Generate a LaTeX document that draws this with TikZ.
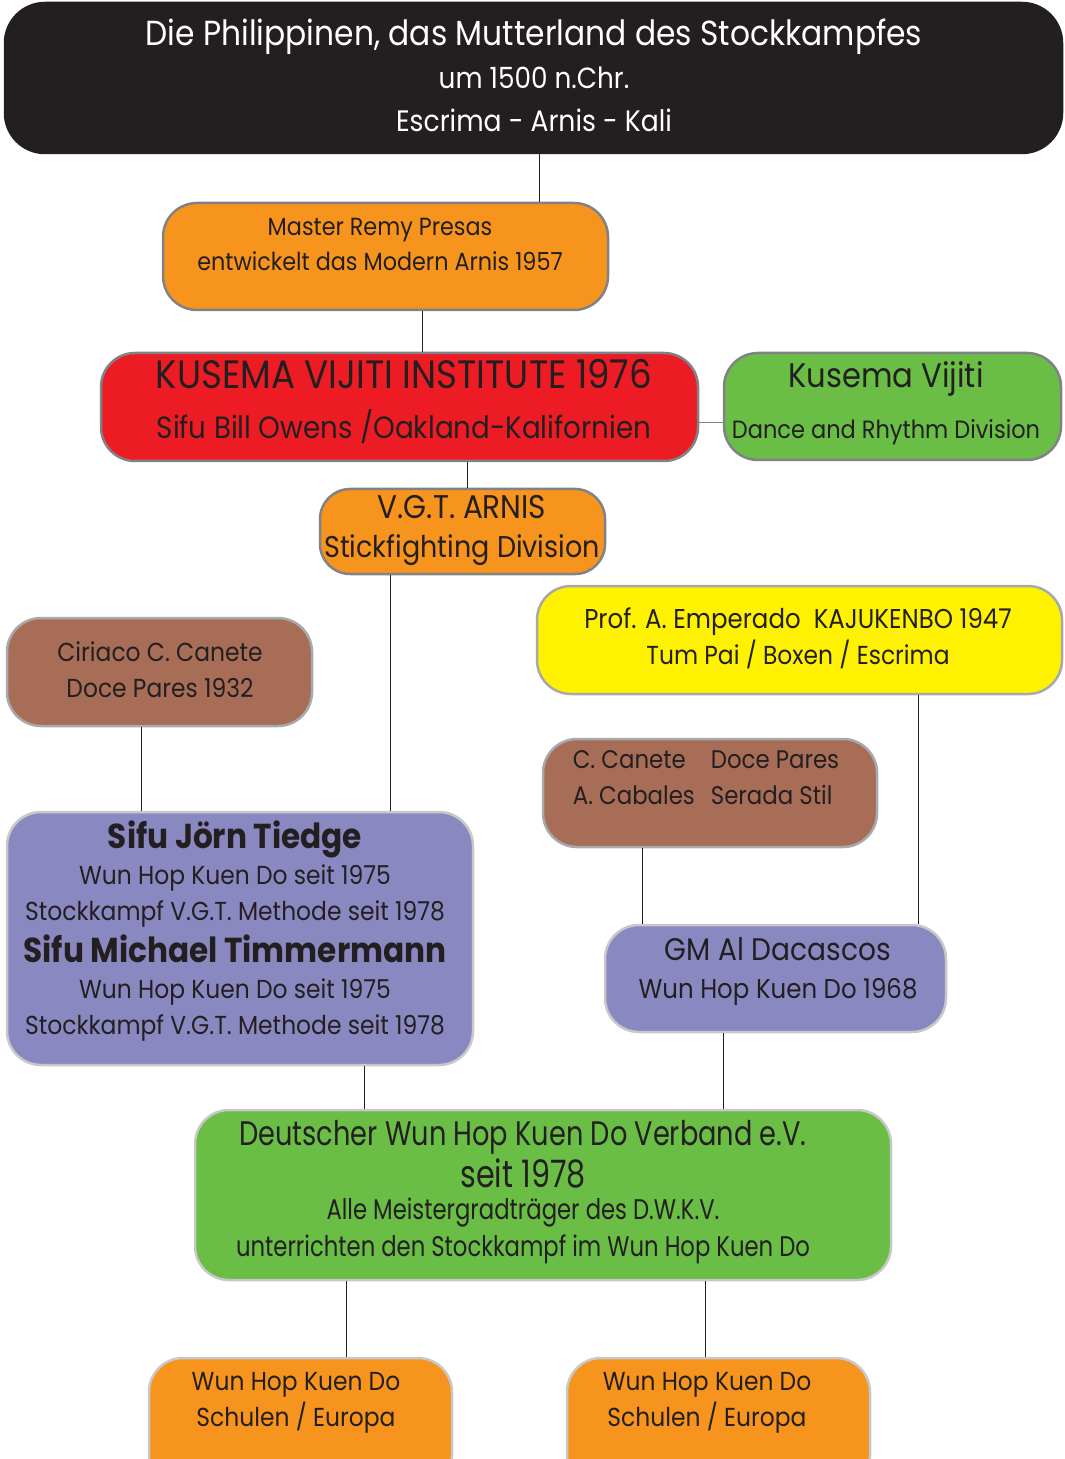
\documentclass[tikz,border=0pt]{standalone}
\usepackage{fontspec}
\setmainfont{Poppins}[FakeStretch=0.9]
\newfontfamily\narrowfont{Poppins}[FakeStretch=0.8]
\usetikzlibrary{fit,positioning}

\definecolor{ink}{HTML}{231F20}
\definecolor{nightblack}{HTML}{231F20}
\definecolor{arnisorange}{HTML}{F7941D}
\definecolor{kvired}{HTML}{ED1C24}
\definecolor{leafgreen}{HTML}{6ABD45}
\definecolor{kajuyellow}{HTML}{FFF200}
\definecolor{docebrown}{HTML}{A86D57}
\definecolor{wunpurple}{HTML}{8A88C1}
\definecolor{rimdark}{HTML}{808285}
\definecolor{rimmid}{HTML}{A7A9AC}
\definecolor{rimlight}{HTML}{C7C8CA}

\newcommand{\fs}[1]{\fontsize{#1}{#1}\selectfont}

\begin{document}
\begin{tikzpicture}[x=0.5pt,y=-0.5pt,
    box/.style={draw=#1, line width=1.25pt, rounded corners=17pt, inner sep=0pt},
    box/.default=rimdark,
    txt/.style={align=center, text=ink, inner sep=0pt},
    link/.style={draw=ink, line width=0.5pt}]
    \useasboundingbox (0,0) rectangle (1064,1459);

    % boxes
    \node[box=nightblack, fill=nightblack, rounded corners=20pt, fit={(5,3) (1062,153)}] (philipp) {};
    \node[box, fill=arnisorange, fit={(163,203) (608,310)}] (remy) {};
    \node[box, fill=kvired, fit={(101,353) (698,461)}] (kvi) {};
    \node[box, fill=leafgreen, fit={(724,353) (1061,460)}] (kvdance) {};
    \node[box, fill=arnisorange, rounded corners=15pt, fit={(320,489) (605,574)}] (vgt) {};
    \node[box=rimmid, fill=docebrown, fit={(7,618) (312,726)}] (ciriaco) {};
    \node[box=rimmid, fill=kajuyellow, fit={(537,586) (1062,694)}] (emperado) {};
    \node[box=rimmid, fill=docebrown, fit={(543,739) (877,847)}] (canete) {};
    \node[box=rimlight, fill=wunpurple, fit={(7,812) (473,1065)}] (tiedge) {};
    \node[box=rimlight, fill=wunpurple, fit={(605,925) (946,1032)}] (dacascos) {};
    \node[box=rimlight, fill=leafgreen, fit={(195,1110) (891,1280)}] (dwkv) {};
    \node[box=rimlight, fill=arnisorange, fit={(149,1358) (452,1490)}] (schoolA) {};
    \node[box=rimlight, fill=arnisorange, fit={(567,1358) (870,1490)}] (schoolB) {};

    % texts
    \node[txt, text=white, font=\fontsize{14}{21.5}\selectfont] (philipptxt) at (534,75)
        {{\fs{17.4}Die Philippinen, das Mutterland des Stockkampfes}\\
         {\fs{14.6}um 1500 n.Chr.}\\
         {\fs{14.8}Escrima - Arnis - Kali}};
    \node[txt, font=\fontsize{12.4}{17.5}\selectfont] (remytxt) at (380,244)
        {Master Remy Presas\\entwickelt das Modern Arnis 1957};
    \node[txt, font=\fontsize{15.4}{25}\selectfont] (kvitxt) at (404,402)
        {{\fs{19.8}KUSEMA VIJITI INSTITUTE 1976}\\Sifu Bill Owens /Oakland-Kalifornien};
    \node[txt, font=\fontsize{12.5}{25.5}\selectfont] (kvdancetxt) at (886,403)
        {{\fs{17}Kusema Vijiti}\\Dance and Rhythm Division};
    \node[txt, font=\fontsize{15}{19.5}\selectfont] (vgttxt) at (462,530)
        {{\fs{16.4}V.G.T. ARNIS}\\Stickfighting Division};
    \node[txt, font=\fontsize{13}{18}\selectfont] (ciriacotxt) at (160,670)
        {Ciriaco C. Canete\\Doce Pares 1932};
    \node[txt, font=\fontsize{13}{18}\selectfont] (emperadotxt) at (798,638)
        {{\fs{13.6}Prof. A. Emperado\ \ KAJUKENBO 1947}\\Tum Pai / Boxen / Escrima};
    \node[txt, font=\fontsize{12.7}{18}\selectfont] (canetetxt) at (706,779)
        {\begin{tabular}{@{}l@{\hspace{8pt}}l@{}}
           C. Canete & Doce Pares\\[0pt]
           A. Cabales & Serada Stil
         \end{tabular}};
    \node[txt, font=\fontsize{13}{18}\selectfont] (tiedgetxt) at (235,931)
        {{\fs{17.3}\bfseries Sifu Jörn Tiedge}\\
         Wun Hop Kuen Do seit 1975\\
         Stockkampf V.G.T. Methode seit 1978\\[3pt]
         {\fs{17.3}\bfseries Sifu Michael Timmermann}\\
         Wun Hop Kuen Do seit 1975\\
         Stockkampf V.G.T. Methode seit 1978};
    \node[txt, font=\fontsize{13.6}{19}\selectfont] (dacascostxt) at (778,971)
        {{\fs{15.6}GM Al Dacascos}\\Wun Hop Kuen Do 1968};
    \node[txt, font=\narrowfont\fontsize{14.2}{18.5}\selectfont] (dwkvtxt) at (523,1192)
        {{\fs{17}Deutscher Wun Hop Kuen Do Verband e.V.}\\[1.5pt]
         {\fs{18.9}seit 1978}\\[-2.5pt]
         Alle Meistergradträger des D.W.K.V.\\
         unterrichten den Stockkampf im Wun Hop Kuen Do};
    \node[txt, font=\fontsize{13}{18}\selectfont] (schoolAtxt) at (296,1403)
        {Wun Hop Kuen Do\\Schulen / Europa};
    \node[txt, font=\fontsize{13}{18}\selectfont] (schoolBtxt) at (707,1403)
        {Wun Hop Kuen Do\\Schulen / Europa};

    % connectors
    \draw[link] (philipp.south -| 539,0) -- (remy.north -| 539,0);
    \draw[link] (remy.south -| 422,0) -- (kvi.north -| 422,0);
    \draw[link, draw=rimdark] (kvi.east |- 0,423) -- (kvdance.west |- 0,423);
    \draw[link] (kvi.south -| 467,0) -- (vgt.north -| 467,0);
    \draw[link] (vgt.south -| 390,0) -- (tiedge.north -| 390,0);
    \draw[link] (ciriaco.south -| 141,0) -- (tiedge.north -| 141,0);
    \draw[link] (emperado.south -| 918,0) -- (dacascos.north -| 918,0);
    \draw[link] (canete.south -| 642,0) -- (dacascos.north -| 642,0);
    \draw[link] (tiedge.south -| 364,0) -- (dwkv.north -| 364,0);
    \draw[link] (dacascos.south -| 723,0) -- (dwkv.north -| 723,0);
    \draw[link] (dwkv.south -| 346,0) -- (schoolA.north -| 346,0);
    \draw[link] (dwkv.south -| 705,0) -- (schoolB.north -| 705,0);
\end{tikzpicture}
\end{document}
